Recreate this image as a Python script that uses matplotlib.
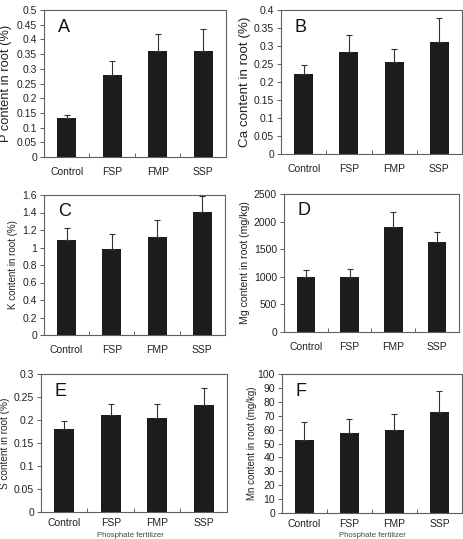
import matplotlib
matplotlib.use("Agg")
import matplotlib.pyplot as plt
import numpy as np

plt.rcParams['font.family'] = ['Liberation Sans', 'DejaVu Sans']

categories = ["Control", "FSP", "FMP", "SSP"]

p_vals = [0.131, 0.279, 0.361, 0.361]
p_err = [0.012, 0.049, 0.059, 0.074]
ca_vals = [0.222, 0.282, 0.255, 0.312]
ca_err = [0.025, 0.048, 0.038, 0.065]
k_vals = [1.09, 0.985, 1.12, 1.41]
k_err = [0.13, 0.175, 0.20, 0.18]
mg_vals = [993, 993, 1900, 1634]
mg_err = [127, 145, 267, 182]
s_vals = [0.180, 0.211, 0.205, 0.232]
s_err = [0.017, 0.023, 0.030, 0.037]
mn_vals = [52.4, 57.9, 59.4, 72.8]
mn_err = [13.2, 9.6, 11.8, 15.2]

ylabels = ["P content in root (%)", "Ca content in root (%)", "K content in root (%)",
           "Mg content in root (mg/kg)", "S content in root (%)", "Mn content in root (mg/kg)"]
letters = ["A", "B", "C", "D", "E", "F"]
yticks_list = [
    ["0", "0.05", "0.1", "0.15", "0.2", "0.25", "0.3", "0.35", "0.4", "0.45", "0.5"],
    ["0", "0.05", "0.1", "0.15", "0.2", "0.25", "0.3", "0.35", "0.4"],
    ["0", "0.2", "0.4", "0.6", "0.8", "1", "1.2", "1.4", "1.6"],
    ["0", "500", "1000", "1500", "2000", "2500"],
    ["0", "0.05", "0.1", "0.15", "0.2", "0.25", "0.3"],
    ["0", "10", "20", "30", "40", "50", "60", "70", "80", "90", "100"],
]
xlabel = "Phosphate fertilizer"
series = [(p_vals, p_err), (ca_vals, ca_err), (k_vals, k_err),
          (mg_vals, mg_err), (s_vals, s_err), (mn_vals, mn_err)]

W, H = 464, 539
fig = plt.figure(figsize=(W / 100, H / 100), dpi=100)

# pixel boxes: left, right, top, bottom
boxes = [(44, 226, 10, 157), (281, 462, 10, 154),
         (44, 225, 195, 335), (284, 459, 194, 332),
         (41, 227, 374, 512), (282, 462, 374, 513)]
ylab_x = [6, 245, 13, 245, 5, 252]
ylab_size = [9.3, 9.6, 7.0, 7.6, 7.2, 7.0]
xpads = [7, 7, 7, 7, 4.5, 4.5]

spine_col = "#606060"
for i in range(6):
    l, r, t, b = boxes[i]
    ax = fig.add_axes([l / W, 1 - b / H, (r - l) / W, (b - t) / H])
    vals, err = series[i]
    x = np.arange(len(categories))
    ax.bar(x, vals, width=0.42, color="#1c1c1c", zorder=2)
    ax.errorbar(x, vals, yerr=[np.zeros(len(err)), err], fmt="none",
                ecolor="#333333", elinewidth=0.8, capsize=2.5, capthick=0.8, zorder=3)
    ticks = [float(v) for v in yticks_list[i]]
    ax.set_ylim(ticks[0], ticks[-1])
    ax.set_yticks(ticks)
    ax.set_yticklabels(yticks_list[i], fontsize=7.5, color="#222222")
    ax.set_xlim(-0.5, len(categories) - 0.5)
    ax.set_xticks(x)
    ax.set_xticklabels(categories, fontsize=7.5, color="#222222")
    ax.set_xticks([0.5, 1.5, 2.5], minor=True)
    ax.tick_params(axis="x", which="major", length=0, pad=xpads[i])
    ax.tick_params(axis="x", which="minor", direction="in", length=3, color=spine_col, width=0.7)
    ax.tick_params(axis="y", direction="out", length=3, color=spine_col, width=0.7, pad=2)
    for s in ax.spines.values():
        s.set_color(spine_col)
        s.set_linewidth(0.8)
    ax.text(14 / (r - l), 1 - 17 / (b - t), letters[i], transform=ax.transAxes,
            fontsize=13, ha="left", va="center", color="#111111")
    yc = 1 - ((t + b) / 2) / H
    fig.text(ylab_x[i] / W, yc, ylabels[i], rotation=90, ha="center", va="center",
             fontsize=ylab_size[i], color="#222222")

fig.text(130 / W, 0.3 / H, xlabel, ha="center", va="bottom",
         fontsize=5.6, color="#444444")
fig.text(372 / W, 0.3 / H, xlabel, ha="center", va="bottom",
         fontsize=5.6, color="#444444")

fig.savefig("out.png", dpi=100)
